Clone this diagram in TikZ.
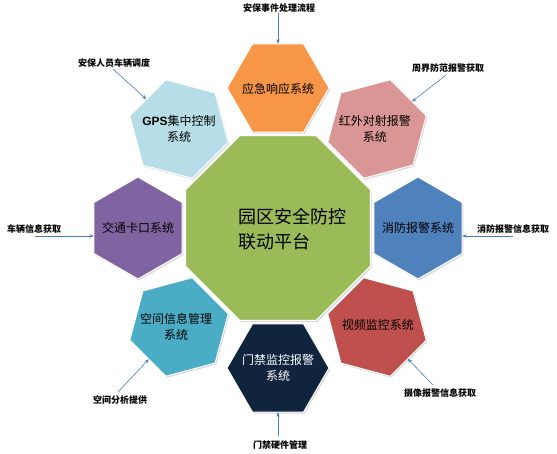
\documentclass[tikz,border=0pt]{standalone}
\usepackage{fontspec}
\setmainfont{Noto Sans CJK SC}
\newfontfamily\latinbold{Liberation Sans}
\usetikzlibrary{shapes.geometric,shadows,arrows.meta,calc}
\definecolor{cOrange}{HTML}{F79646}
\definecolor{cLightBlue}{HTML}{B7DEE8}
\definecolor{cPink}{HTML}{D99694}
\definecolor{cPurple}{HTML}{8064A2}
\definecolor{cBlue}{HTML}{4F81BD}
\definecolor{cTeal}{HTML}{4BACC6}
\definecolor{cRed}{HTML}{C0504D}
\definecolor{cNavy}{HTML}{10243E}
\definecolor{cGreen}{HTML}{9BBB59}
\definecolor{cArrow}{HTML}{4A7EBB}
\begin{document}
\begin{tikzpicture}[x=1pt,y=1pt,
  shadowed/.style={drop shadow={shadow xshift=1.2pt,shadow yshift=-1.5pt,opacity=0.3}},
  hexbox/.style={regular polygon, regular polygon sides=6, minimum size=102pt,
    inner sep=0pt, outer sep=0pt, draw=white, line width=1pt, shadowed},
  hextext/.style={font=\fontsize{12}{16}\selectfont, align=center, text=black, inner sep=0pt},
  lbl/.style={font=\fontsize{9}{10}\selectfont\bfseries, text=black, inner sep=0pt},
  arr/.style={draw=cArrow, line width=0.6pt, -{Stealth[length=4.5pt,width=3.5pt]}}
]
\useasboundingbox (0,0) rectangle (557,453);
\coordinate (c) at (278,225);
\node[regular polygon, regular polygon sides=8, minimum size=200pt, inner sep=0pt,
  outer sep=0pt, fill=cGreen, draw=white, line width=1pt, shadowed] (oct) at (c) {};
\node[font=\fontsize{18}{25}\selectfont, align=left, inner sep=0pt] (octtext) at (292,223.5)
  {园区安全防控\\联动平台};

\node[hexbox, fill=cOrange, shape border rotate=0] (resp) at ($(c)+(90:140)$) {};
\node[hexbox, fill=cLightBlue, shape border rotate=45] (gps) at ($(c)+(135:140)$) {};
\node[hexbox, fill=cPink, shape border rotate=-45] (ir) at ($(c)+(45:140)$) {};
\node[hexbox, fill=cPurple, shape border rotate=90] (traffic) at ($(c)+(180:140)$) {};
\node[hexbox, fill=cBlue, shape border rotate=-90] (fire) at ($(c)+(0:140)$) {};
\node[hexbox, fill=cTeal, shape border rotate=135] (space) at ($(c)+(225:140)$) {};
\node[hexbox, fill=cRed, shape border rotate=-135] (video) at ($(c)+(315:140)$) {};
\node[hexbox, fill=cNavy, shape border rotate=180] (door) at ($(c)+(270:140)$) {};

\node[hextext] (resp-t) at ($(resp)+(0,-1)$) {应急响应系统};
\node[hextext] (gps-t) at (gps) {{\latinbold\bfseries GPS}集中控制\\系统};
\node[hextext] (ir-t) at ($(ir)+(-2,0)$) {红外对射报警\\系统};
\node[hextext] (traffic-t) at (traffic) {交通卡口系统};
\node[hextext] (fire-t) at (fire) {消防报警系统};
\node[hextext] (space-t) at ($(space)+(-3,0)$) {空间信息管理\\系统};
\node[hextext] (video-t) at ($(video)+(1,2)$) {视频监控系统};
\node[hextext, text=white] (door-t) at (door) {门禁监控报警\\系统};

\node[lbl] (l1) at (279,445) {安保事件处理流程};
\node[lbl] (l2) at (114,390) {安保人员车辆调度};
\node[lbl] (l3) at (448,385) {周界防范报警获取};
\node[lbl] (l4) at (34,224) {车辆信息获取};
\node[lbl] (l5) at (513,224) {消防报警信息获取};
\node[lbl] (l6) at (120,53) {空间分析提供};
\node[lbl] (l7) at (440,60) {摄像报警信息获取};
\node[lbl] (l8) at (280,8) {门禁硬件管理};

\coordinate (t1) at (278,440);
\coordinate (t2) at (113,384);
\coordinate (t3) at (446,378);
\coordinate (t4) at (35,217);
\coordinate (t5) at (513,217);
\coordinate (t6) at (118,61);
\coordinate (t7) at (433,68);
\coordinate (t8) at (278,17);

\draw[arr] (t1) -- (resp);
\draw[arr] (t2) -- (gps);
\draw[arr] (t3) -- (ir);
\draw[arr] (t4) -- (t4 -| traffic.180);
\draw[arr] (t5) -- (t5 -| fire.0);
\draw[arr] (t6) -- (space);
\draw[arr] (t7) -- (video);
\draw[arr] (t8) -- (door);
\end{tikzpicture}
\end{document}
